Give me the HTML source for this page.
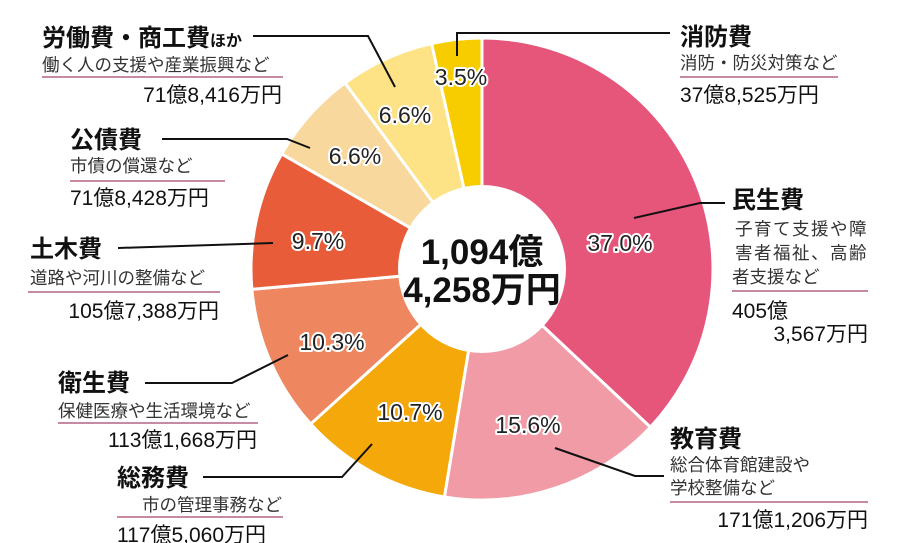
<!DOCTYPE html>
<html><head><meta charset="utf-8"><style>
html,body{margin:0;padding:0;background:#fff;}
svg{display:block;font-family:"Liberation Sans","Noto Sans CJK JP",sans-serif;}
.pct{font-size:23px;fill:#222;stroke:#fff;stroke-width:4px;paint-order:stroke;stroke-linejoin:round;text-anchor:middle;}
.t{font-size:24px;font-weight:bold;fill:#111;}
.s{font-size:17.5px;fill:#333;}
.a{font-size:21px;fill:#111;}
.ul{stroke:#a8446a;stroke-width:1.2;}
.ld{stroke:#111;stroke-width:2;fill:none;}
</style></head><body>
<svg id="c" width="897" height="543" viewBox="0 0 897 543">
<g id="w"></g>
<circle cx="482" cy="269" r="84" fill="#fff"/>
<text x="482" y="264" text-anchor="middle" style="font-size:35px;font-weight:bold;fill:#111">1,094億</text>
<text x="482" y="302" text-anchor="middle" style="font-size:35px;font-weight:bold;fill:#111">4,258万円</text>

<text class="pct" x="620" y="251">37.0%</text>
<text class="pct" x="528" y="433">15.6%</text>
<text class="pct" x="410" y="420">10.7%</text>
<text class="pct" x="332" y="350">10.3%</text>
<text class="pct" x="318" y="249">9.7%</text>
<text class="pct" x="355" y="164">6.6%</text>
<text class="pct" x="405" y="123">6.6%</text>
<text class="pct" x="461" y="85">3.5%</text>

<polyline class="ld" points="253,36 368,36 395,87"/>
<polyline class="ld" points="162,139 287,139 310,148"/>
<polyline class="ld" points="118,248 273,243"/>
<polyline class="ld" points="145,383 232,383 288,355"/>
<polyline class="ld" points="203,477 342,477 372,444"/>
<polyline class="ld" points="457,56 457,33 670,33"/>
<polyline class="ld" points="634,218 700,203 725,203"/>
<polyline class="ld" points="555,448 635,476 664,476"/>

<text class="t" x="42" y="46">労働費・商工費<tspan style="font-size:16px">ほか</tspan></text>
<text class="s" x="42" y="71">働く人の支援や産業振興など</text>
<line class="ul" x1="42" y1="77" x2="283" y2="77"/>
<text class="a" x="282" y="102" text-anchor="end">71億8,416万円</text>

<text class="t" x="70" y="148">公債費</text>
<text class="s" x="70" y="172">市債の償還など</text>
<line class="ul" x1="70" y1="181" x2="225" y2="181"/>
<text class="a" x="70" y="205">71億8,428万円</text>

<text class="t" x="30" y="257">土木費</text>
<text class="s" x="30" y="284">道路や河川の整備など</text>
<line class="ul" x1="28" y1="292" x2="220" y2="292"/>
<text class="a" x="219" y="318" text-anchor="end">105億7,388万円</text>

<text class="t" x="58" y="391">衛生費</text>
<text class="s" x="58" y="417">保健医療や生活環境など</text>
<line class="ul" x1="58" y1="423" x2="258" y2="423"/>
<text class="a" x="257" y="447" text-anchor="end">113億1,668万円</text>

<text class="t" x="117" y="486">総務費</text>
<text class="s" x="282" y="511" text-anchor="end">市の管理事務など</text>
<line class="ul" x1="117" y1="517" x2="283" y2="517"/>
<text class="a" x="117" y="542">117億5,060万円</text>

<text class="t" x="680" y="45">消防費</text>
<text class="s" x="680" y="69">消防・防災対策など</text>
<line class="ul" x1="680" y1="77" x2="838" y2="77"/>
<text class="a" x="680" y="102">37億8,525万円</text>

<text class="t" x="732" y="208">民生費</text>
<text class="s" x="735" y="235" style="letter-spacing:1.5px">子育て支援や障</text>
<text class="s" x="735" y="259" style="letter-spacing:1.5px">害者福祉、高齢</text>
<text class="s" x="732" y="283">者支援など</text>
<line class="ul" x1="732" y1="291" x2="868" y2="291"/>
<text class="a" x="732" y="318">405億</text>
<text class="a" x="868" y="341" text-anchor="end">3,567万円</text>

<text class="t" x="670" y="447">教育費</text>
<text class="s" x="670" y="471">総合体育館建設や</text>
<text class="s" x="670" y="494">学校整備など</text>
<line class="ul" x1="670" y1="502" x2="868" y2="502"/>
<text class="a" x="868" y="527" text-anchor="end">171億1,206万円</text>
</svg>
<script>
(function(){
var cx=482,cy=269,R=231,r=80;
var d=[[37.0,"#e6557a"],[15.6,"#f09ba6"],[10.7,"#f4a80a"],[10.3,"#ee8660"],[9.7,"#e85c3a"],[6.6,"#f9d89e"],[6.6,"#fde386"],[3.5,"#f8cd00"]];
var g=document.getElementById("w"),a=0,s="";
function p(ang,rr){var t=ang*Math.PI/180;return (cx+rr*Math.sin(t)).toFixed(2)+","+(cy-rr*Math.cos(t)).toFixed(2);}
d.forEach(function(x){var b=a+x[0]*3.6;var lg=(b-a)>180?1:0;
s+='<path d="M'+p(a,r)+' L'+p(a,R)+' A'+R+','+R+' 0 '+lg+' 1 '+p(b,R)+' L'+p(b,r)+' Z" fill="'+x[1]+'" stroke="#fff" stroke-width="3"/>';a=b;});
g.innerHTML=s;
})();
</script>
</body></html>
